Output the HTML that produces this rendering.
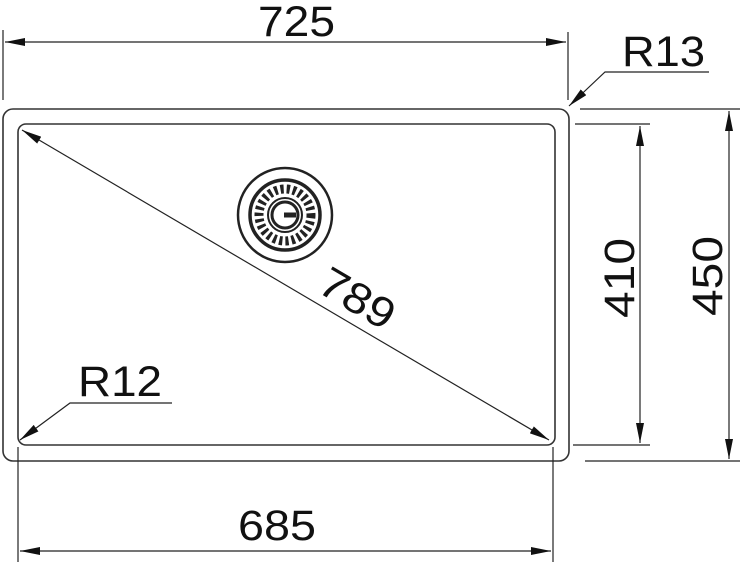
<!DOCTYPE html>
<html><head><style>
html,body{margin:0;padding:0;background:#fff;}
svg{display:block;}
text{font-family:"Liberation Sans",sans-serif;fill:#111;}
</style></head><body>
<svg width="740" height="564" viewBox="0 0 740 564" xmlns="http://www.w3.org/2000/svg">
<defs>
<marker id="a" viewBox="0 0 20 8" refX="20" refY="4" markerWidth="20" markerHeight="8" markerUnits="userSpaceOnUse" orient="auto-start-reverse">
<path d="M0,0 L20,4 L0,8 Z" fill="#111"/>
</marker>
</defs>
<g fill="none" stroke="#333" stroke-width="1.6">
<rect x="3" y="109" width="566" height="352" rx="10"/>
<rect x="18" y="124" width="537" height="321" rx="8"/>
</g>
<g stroke="#222" stroke-width="1.2" fill="none">
<line x1="3" y1="30" x2="3" y2="100"/>
<line x1="568" y1="32" x2="568" y2="100"/>
<line x1="5" y1="42" x2="566" y2="42" marker-start="url(#a)" marker-end="url(#a)"/>
<polyline points="709,72 605,72 569,106" marker-end="url(#a)"/>
<line x1="575" y1="124" x2="650" y2="124"/>
<line x1="573" y1="445" x2="650" y2="445"/>
<line x1="640" y1="126" x2="640" y2="443" marker-start="url(#a)" marker-end="url(#a)"/>
<line x1="580" y1="109" x2="740" y2="109"/>
<line x1="585" y1="461" x2="740" y2="461"/>
<line x1="729" y1="111" x2="729" y2="459" marker-start="url(#a)" marker-end="url(#a)"/>
<line x1="18" y1="447" x2="18" y2="562"/>
<line x1="553" y1="447" x2="553" y2="562"/>
<line x1="20" y1="551" x2="551" y2="551" marker-start="url(#a)" marker-end="url(#a)"/>
<line x1="22" y1="130" x2="549" y2="440" marker-start="url(#a)" marker-end="url(#a)"/>
<polyline points="172,403 70,403 20,440" marker-end="url(#a)"/>
</g>
<g transform="translate(285,215)">
<circle r="47" fill="none" stroke="#222" stroke-width="2.5"/>
<circle r="35" fill="none" stroke="#222" stroke-width="3.5"/>
<circle r="26" fill="none" stroke="#222" stroke-width="9" stroke-dasharray="3.2 3"/>
<circle r="17" fill="none" stroke="#222" stroke-width="2"/>
<circle r="13" fill="#fff" stroke="#222" stroke-width="3"/>
<rect x="-1" y="-2.5" width="12" height="5" fill="#222"/>
</g>
<text x="258" y="36" font-size="43" textLength="77" lengthAdjust="spacingAndGlyphs">725</text>
<text x="622" y="66" font-size="43" textLength="83" lengthAdjust="spacingAndGlyphs">R13</text>
<text x="238" y="540" font-size="43" textLength="78" lengthAdjust="spacingAndGlyphs">685</text>
<text x="78" y="396" font-size="43" textLength="84" lengthAdjust="spacingAndGlyphs">R12</text>
<text x="-40" y="0" font-size="43" textLength="80" lengthAdjust="spacingAndGlyphs" transform="translate(634,278) rotate(-90)">410</text>
<text x="-40" y="0" font-size="43" textLength="80" lengthAdjust="spacingAndGlyphs" transform="translate(722,276) rotate(-90)">450</text>
<text x="-40" y="0" font-size="43" textLength="80" lengthAdjust="spacingAndGlyphs" transform="translate(350,311) rotate(30.5)">789</text>
</svg>
</body></html>
